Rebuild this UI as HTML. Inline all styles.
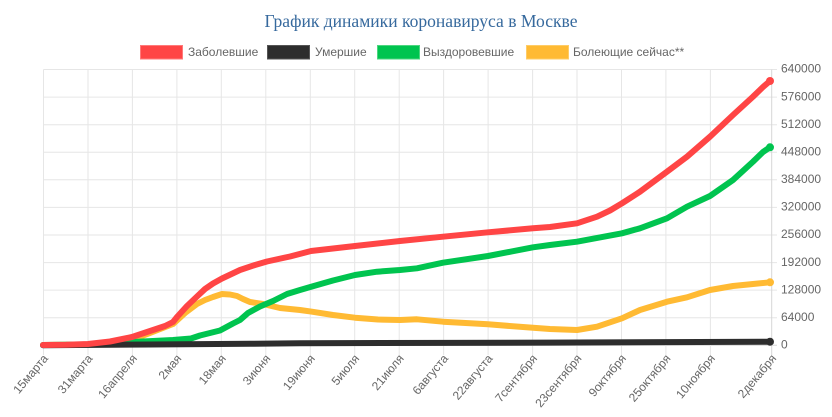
<!DOCTYPE html>
<html><head><meta charset="utf-8"><style>
html,body{margin:0;padding:0;background:#fff;}
svg{display:block;}
text{font-family:"Liberation Sans","DejaVu Sans",sans-serif;}
</style></head><body>
<svg width="832" height="417" viewBox="0 0 832 417" xmlns="http://www.w3.org/2000/svg">
<rect width="832" height="417" fill="#fff"/>
<text x="421" y="27" text-anchor="middle" font-size="18" fill="#36699d" style="font-family:'Liberation Serif','DejaVu Serif',serif" textLength="313" lengthAdjust="spacingAndGlyphs">График динамики коронавируса в Москве</text>

<g font-size="12" fill="#666">
<rect x="140.5" y="45.5" width="42" height="13.5" fill="#ff4545" stroke="#ff7a7a" stroke-width="1"/>
<text x="188" y="56">Заболевшие</text>
<rect x="267.5" y="45.5" width="42" height="13.5" fill="#2d2d2d" stroke="#555" stroke-width="1"/>
<text x="315" y="56">Умершие</text>
<rect x="377.5" y="45.5" width="42" height="13.5" fill="#00c44f" stroke="#4cd67f" stroke-width="1"/>
<text x="423" y="56">Выздоровевшие</text>
<rect x="526.5" y="45.5" width="42" height="13.5" fill="#ffba33" stroke="#ffcc66" stroke-width="1"/>
<text x="573" y="56">Болеющие сейчас**</text>
</g>

<g stroke="#e6e6e6" stroke-width="1" fill="none">
<line x1="43.5" y1="69.5" x2="777" y2="69.5"/>
<line x1="43.5" y1="97.1" x2="777" y2="97.1"/>
<line x1="43.5" y1="124.7" x2="777" y2="124.7"/>
<line x1="43.5" y1="152.2" x2="777" y2="152.2"/>
<line x1="43.5" y1="179.8" x2="777" y2="179.8"/>
<line x1="43.5" y1="207.4" x2="777" y2="207.4"/>
<line x1="43.5" y1="235.0" x2="777" y2="235.0"/>
<line x1="43.5" y1="262.6" x2="777" y2="262.6"/>
<line x1="43.5" y1="290.1" x2="777" y2="290.1"/>
<line x1="43.5" y1="317.7" x2="777" y2="317.7"/>
<line x1="43.5" y1="345.3" x2="777" y2="345.3" stroke="#d6d6d6"/>
<line x1="43.5" y1="69.5" x2="43.5" y2="355"/>
<line x1="88" y1="69.5" x2="88" y2="355"/>
<line x1="132.4" y1="69.5" x2="132.4" y2="355"/>
<line x1="176.9" y1="69.5" x2="176.9" y2="355"/>
<line x1="221.3" y1="69.5" x2="221.3" y2="355"/>
<line x1="265.8" y1="69.5" x2="265.8" y2="355"/>
<line x1="310.3" y1="69.5" x2="310.3" y2="355"/>
<line x1="354.7" y1="69.5" x2="354.7" y2="355"/>
<line x1="399.2" y1="69.5" x2="399.2" y2="355"/>
<line x1="443.6" y1="69.5" x2="443.6" y2="355"/>
<line x1="488.1" y1="69.5" x2="488.1" y2="355"/>
<line x1="532.6" y1="69.5" x2="532.6" y2="355"/>
<line x1="577" y1="69.5" x2="577" y2="355"/>
<line x1="621.5" y1="69.5" x2="621.5" y2="355"/>
<line x1="665.9" y1="69.5" x2="665.9" y2="355"/>
<line x1="710.4" y1="69.5" x2="710.4" y2="355"/>
<line x1="771.7" y1="69.5" x2="771.7" y2="355" stroke="#d6d6d6"/>
</g>

<g font-size="12" fill="#666" dominant-baseline="middle">
<text x="781" y="69.5">640000</text>
<text x="781" y="97.1">576000</text>
<text x="781" y="124.7">512000</text>
<text x="781" y="152.2">448000</text>
<text x="781" y="179.8">384000</text>
<text x="781" y="207.4">320000</text>
<text x="781" y="235.0">256000</text>
<text x="781" y="262.6">192000</text>
<text x="781" y="290.1">128000</text>
<text x="781" y="317.7">64000</text>
<text x="781" y="345.3">0</text>
</g>

<g font-size="12" fill="#666" text-anchor="end">
<text transform="translate(45.5,356) rotate(-50)" dy="0.35em">15марта</text>
<text transform="translate(90,356) rotate(-50)" dy="0.35em">31марта</text>
<text transform="translate(134.4,356) rotate(-50)" dy="0.35em">16апреля</text>
<text transform="translate(178.9,356) rotate(-50)" dy="0.35em">2мая</text>
<text transform="translate(223.3,356) rotate(-50)" dy="0.35em">18мая</text>
<text transform="translate(267.8,356) rotate(-50)" dy="0.35em">3июня</text>
<text transform="translate(312.3,356) rotate(-50)" dy="0.35em">19июня</text>
<text transform="translate(356.7,356) rotate(-50)" dy="0.35em">5июля</text>
<text transform="translate(401.2,356) rotate(-50)" dy="0.35em">21июля</text>
<text transform="translate(445.6,356) rotate(-50)" dy="0.35em">6августа</text>
<text transform="translate(490.1,356) rotate(-50)" dy="0.35em">22августа</text>
<text transform="translate(534.6,356) rotate(-50)" dy="0.35em">7сентября</text>
<text transform="translate(579,356) rotate(-50)" dy="0.35em">23сентября</text>
<text transform="translate(623.5,356) rotate(-50)" dy="0.35em">9октября</text>
<text transform="translate(667.9,356) rotate(-50)" dy="0.35em">25октября</text>
<text transform="translate(712.4,356) rotate(-50)" dy="0.35em">10ноября</text>
<text transform="translate(773.7,356) rotate(-50)" dy="0.35em">2декабря</text>
</g>

<g fill="none" stroke-width="6" stroke-linecap="round" stroke-linejoin="round">
<polyline stroke="#ffba33" points="43,345 88,344.5 133,339.5 150,333 173,324 185,313 197,304 205,300 213,297 222,294 230,294.5 237,296 243,299 250,302 263,304 280,308 300,310 312,311.7 333,315 355,317.7 378,319.5 400,320 417,319.3 443,321.7 488,324.3 533,327.8 550,329 577,330 597,326.7 622,318.3 640,310 667,301.7 687,297.3 710,290 733,286 753,284 770,282.3"/>
<polyline stroke="#00c44f" points="43,345 88,344.5 133,342 173,340 191,338.5 200,335.5 220,330.5 233,323.5 240,320 248,313 260,306.5 273,301 287,294 300,290 312,286.5 333,280.5 355,275 377,271.7 400,270 417,268.3 443,262.7 488,256 533,247.3 550,245 577,241.7 622,233.3 640,228.3 667,218.3 687,206.7 710,196 733,180 753,161.7 763,152 770,147.3"/>
<polyline stroke="#2d2d2d" points="43,345.3 150,344.5 250,343.8 300,343.2 550,342.6 770,341.7"/>
<polyline stroke="#ff4545" points="43,345 66,344.8 88,344 110,341.5 132,337 150,331 165,326 173,322 177,317 187,306 197,296.5 205,289 213,283.5 222,278.5 240,270 255,265 267,261.5 290,256.5 311,251 355,246 400,241 443,236.7 488,232.3 533,228.3 550,227 577,223.3 597,216.7 610,210.5 622,203.3 640,191.7 667,171.7 687,156.7 710,136.7 733,115 753,96.7 763,87 770,81"/>
</g>
<circle cx="770" cy="81" r="4" fill="#ff4545"/>
<circle cx="770" cy="147.3" r="4" fill="#00c44f"/>
<circle cx="770" cy="282.3" r="4" fill="#ffba33"/>
<circle cx="770" cy="341.7" r="4" fill="#2d2d2d"/>
</svg>
</body></html>
